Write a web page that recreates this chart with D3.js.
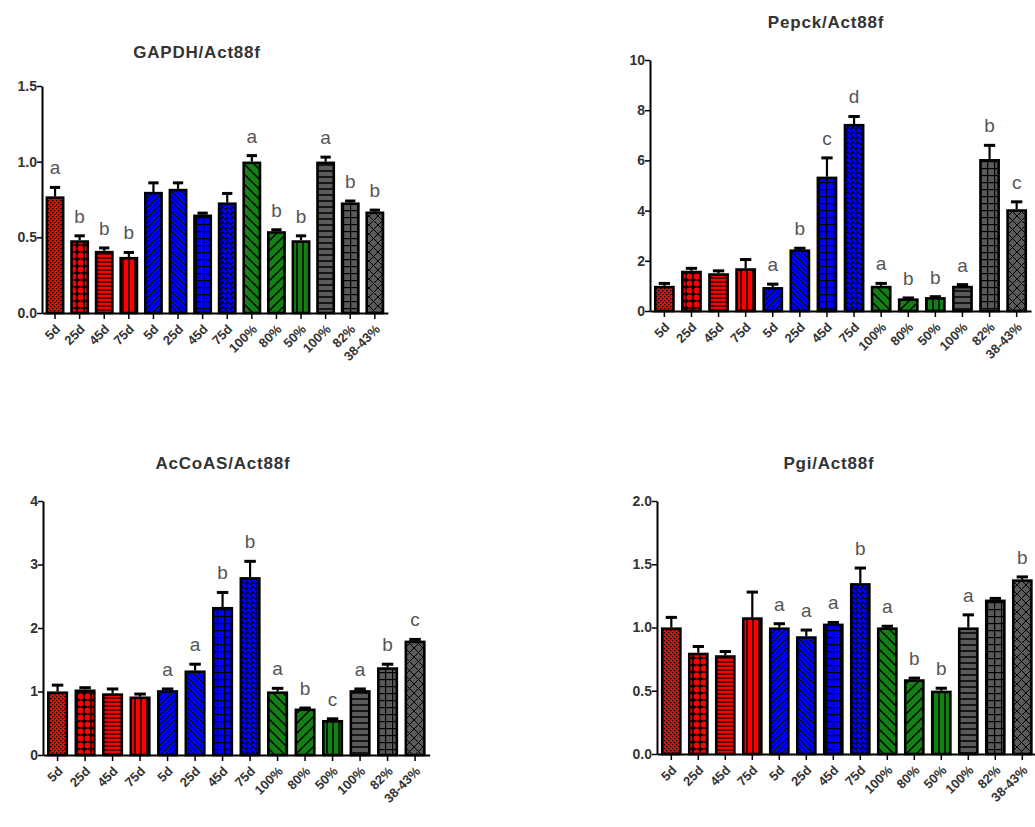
<!DOCTYPE html>
<meta charset="utf-8">
<style>
  body { margin: 0; background: #fff; }
  svg { display: block; font-family: "Liberation Sans", Arial, sans-serif; }
</style>
<body>
<div id="chart"></div>
<script src="https://d3js.org/d3.v7.min.js"></script>
<script>
// categories (same for all four panels)
var categories = ["5d", "25d", "45d", "75d", "5d", "25d", "45d", "75d",
                  "100%", "80%", "50%", "100%", "82%", "38-43%"];

// GAPDH/Act88f
var gapdhMean = [0.77, 0.48, 0.41, 0.37, 0.80, 0.82, 0.65, 0.73, 1.00, 0.54, 0.48, 1.00, 0.73, 0.67];
var gapdhErr  = [0.06, 0.03, 0.02, 0.03, 0.06, 0.04, 0.01, 0.06, 0.04, 0.01, 0.03, 0.03, 0.01, 0.01];
var gapdhSig  = ["a", "b", "b", "b", "", "", "", "", "a", "b", "b", "a", "b", "b"];

// Pepck/Act88f
var pepckMean = [1.00, 1.60, 1.50, 1.70, 0.95, 2.45, 5.35, 7.45, 1.00, 0.50, 0.55, 1.00, 6.05, 4.05];
var pepckErr  = [0.10, 0.10, 0.10, 0.35, 0.12, 0.05, 0.75, 0.30, 0.10, 0.02, 0.02, 0.05, 0.55, 0.30];
var pepckSig  = ["", "", "", "", "a", "b", "c", "d", "a", "b", "b", "a", "b", "c"];

// AcCoAS/Act88f
var accoasMean = [1.00, 1.03, 0.97, 0.92, 1.02, 1.33, 2.33, 2.80, 1.00, 0.73, 0.55, 1.02, 1.38, 1.80];
var accoasErr  = [0.10, 0.03, 0.07, 0.04, 0.02, 0.10, 0.23, 0.25, 0.05, 0.01, 0.02, 0.02, 0.05, 0.02];
var accoasSig  = ["", "", "", "", "a", "a", "b", "b", "a", "b", "c", "a", "b", "c"];

// Pgi/Act88f
var pgiMean = [1.00, 0.80, 0.78, 1.08, 1.00, 0.93, 1.03, 1.35, 1.00, 0.59, 0.50, 1.00, 1.22, 1.38];
var pgiErr  = [0.08, 0.05, 0.03, 0.20, 0.03, 0.05, 0.01, 0.12, 0.01, 0.01, 0.02, 0.10, 0.01, 0.02];
var pgiSig  = ["", "", "", "", "a", "a", "a", "b", "a", "b", "b", "a", "", "b"];

// styling per bar (colour + hatch kind)
var barColors = ["#ff0000", "#ff0000", "#ff0000", "#ff0000",
                 "#0000ff", "#0000ff", "#0000ff", "#0000ff",
                 "#138013", "#138013", "#138013",
                 "#5a5a5a", "#5a5a5a", "#5a5a5a"];
var barHatch = ["check", "circles", "hlinesFine", "vlines",
                "diagUpFine", "diagDownFine", "grid", "dashDiag",
                "diagDownWide", "diagUpWide", "vlines",
                "hlines", "grid", "cross"];

var svg = d3.select("#chart").append("svg")
    .attr("width", 1035)
    .attr("height", 827);

var defs = svg.append("defs");

// build one pattern per bar index
barHatch.forEach(function(kind, i) {
  var c = barColors[i];
  var s = 6;
  if (kind == "check") s = 4;
  if (kind == "circles") s = 7;
  if (kind == "hlinesFine") s = 4;
  if (kind == "diagUpFine" || kind == "diagDownFine") s = 5;
  if (kind == "dashDiag") s = 5;
  if (kind == "diagDownWide" || kind == "diagUpWide") s = 10;
  if (kind == "grid") s = 7;
  if (kind == "cross") s = 9;
  var p = defs.append("pattern")
      .attr("id", "pat" + i)
      .attr("patternUnits", "userSpaceOnUse")
      .attr("width", s)
      .attr("height", s);
  p.append("rect").attr("width", s).attr("height", s).attr("fill", c);
  var line = function(x1, y1, x2, y2, w) {
    p.append("line").attr("x1", x1).attr("y1", y1).attr("x2", x2).attr("y2", y2)
      .attr("stroke", "#000").attr("stroke-width", w);
  };
  if (kind == "check") {
    p.append("rect").attr("x", 0).attr("y", 0).attr("width", 1.3).attr("height", 1.3).attr("fill", "#000");
    p.append("rect").attr("x", 2).attr("y", 2).attr("width", 1.3).attr("height", 1.3).attr("fill", "#000");
  } else if (kind == "circles") {
    p.append("rect").attr("width", s).attr("height", s).attr("fill", "#000");
    p.append("circle").attr("cx", s / 2).attr("cy", s / 2).attr("r", 2.9).attr("fill", c);
  } else if (kind == "hlinesFine" || kind == "hlines") {
    line(0, s / 2, s, s / 2, kind == "hlines" ? 1.5 : 1.2);
  } else if (kind == "vlines") {
    line(s / 2, 0, s / 2, s, 1.5);
  } else if (kind == "diagUpFine" || kind == "diagUpWide") {
    var w = kind == "diagUpWide" ? 1.4 : 1;
    line(0, s, s, 0, w); line(-1, 1, 1, -1, w); line(s - 1, s + 1, s + 1, s - 1, w);
  } else if (kind == "diagDownFine" || kind == "diagDownWide") {
    var w2 = kind == "diagDownWide" ? 1.4 : 1;
    line(0, 0, s, s, w2); line(-1, s - 1, 1, s + 1, w2); line(s - 1, -1, s + 1, 1, w2);
  } else if (kind == "dashDiag") {
    line(0, s, s * 0.6, s * 0.4, 1.3);
    line(s * 0.2, 0, s, s * 0.8, 0.8);
  } else if (kind == "grid") {
    line(0, 0.5, s, 0.5, 1.4); line(0.5, 0, 0.5, s, 1.4);
  } else if (kind == "cross") {
    line(0, 0, s, s, 1); line(0, s, s, 0, 1);
  }
});

// panel layout
var panels = [
  {title: "GAPDH/Act88f", mean: gapdhMean, err: gapdhErr, sig: gapdhSig,
   max: 1.5, ticks: [0, 0.5, 1.0, 1.5], fmt: d3.format(".1f"),
   x0: 42, step: 24.6, yTop: 86, yBottom: 313, titleX: 197, titleY: 58},
  {title: "Pepck/Act88f", mean: pepckMean, err: pepckErr, sig: pepckSig,
   max: 10, ticks: [0, 2, 4, 6, 8, 10], fmt: d3.format("d"),
   x0: 650, step: 27.1, yTop: 60, yBottom: 311, titleX: 826, titleY: 28},
  {title: "AcCoAS/Act88f", mean: accoasMean, err: accoasErr, sig: accoasSig,
   max: 4, ticks: [0, 1, 2, 3, 4], fmt: d3.format("d"),
   x0: 43, step: 27.5, yTop: 501, yBottom: 755, titleX: 223, titleY: 469},
  {title: "Pgi/Act88f", mean: pgiMean, err: pgiErr, sig: pgiSig,
   max: 2, ticks: [0, 0.5, 1.0, 1.5, 2.0], fmt: d3.format(".1f"),
   x0: 657, step: 27, yTop: 501, yBottom: 754, titleX: 829, titleY: 469}
];

var padIn = 0.24, padOut = 0.15;

panels.forEach(function(P) {
  var idx = d3.range(categories.length);
  var x1 = P.x0 + P.step * (idx.length - padIn + 2 * padOut);
  var x = d3.scaleBand().domain(idx).range([P.x0, x1])
      .paddingInner(padIn).paddingOuter(padOut);
  var y = d3.scaleLinear().domain([0, P.max]).range([P.yBottom, P.yTop]);

  var g = svg.append("g");

  // title
  g.append("text")
      .attr("x", P.titleX)
      .attr("y", P.titleY)
      .attr("text-anchor", "middle")
      .attr("font-size", "17px")
      .attr("font-weight", "bold")
      .attr("letter-spacing", "0.8px")
      .attr("fill", "#333")
      .text(P.title);

  // error bars (upper only)
  var capW = x.bandwidth() * 0.55;
  g.selectAll(".err")
      .data(idx)
    .enter().append("line")
      .attr("x1", function(i) { return x(i) + x.bandwidth() / 2; })
      .attr("x2", function(i) { return x(i) + x.bandwidth() / 2; })
      .attr("y1", function(i) { return y(P.mean[i]); })
      .attr("y2", function(i) { return y(P.mean[i] + P.err[i]); })
      .attr("stroke", "#000")
      .attr("stroke-width", 2.2);
  g.selectAll(".cap")
      .data(idx)
    .enter().append("line")
      .attr("x1", function(i) { return x(i) + x.bandwidth() / 2 - capW / 2; })
      .attr("x2", function(i) { return x(i) + x.bandwidth() / 2 + capW / 2; })
      .attr("y1", function(i) { return y(P.mean[i] + P.err[i]); })
      .attr("y2", function(i) { return y(P.mean[i] + P.err[i]); })
      .attr("stroke", "#000")
      .attr("stroke-width", 3);

  // bars
  g.selectAll(".bar")
      .data(idx)
    .enter().append("rect")
      .attr("x", function(i) { return x(i) + 1.2; })
      .attr("width", x.bandwidth() - 2.4)
      .attr("y", function(i) { return y(P.mean[i]) + 1.2; })
      .attr("height", function(i) { return Math.max(0, P.yBottom - y(P.mean[i]) - 1.2); })
      .attr("fill", function(i) { return "url(#pat" + i + ")"; })
      .attr("stroke", "#000")
      .attr("stroke-width", 2.6);

  // significance letters
  g.selectAll(".sig")
      .data(idx)
    .enter().append("text")
      .attr("x", function(i) { return x(i) + x.bandwidth() / 2; })
      .attr("y", function(i) { return y(P.mean[i] + P.err[i]) - 13; })
      .attr("text-anchor", "middle")
      .attr("font-size", "19px")
      .attr("fill", "#555")
      .text(function(i) { return P.sig[i]; });

  // y axis
  var ya = g.append("g")
      .attr("transform", "translate(" + P.x0 + ",0)")
      .call(d3.axisLeft(y).tickValues(P.ticks).tickFormat(P.fmt).tickSize(5).tickSizeOuter(0));
  ya.select(".domain").attr("stroke-width", 2);
  ya.selectAll(".tick line").attr("stroke-width", 1.5);
  ya.selectAll("text")
      .attr("font-size", "14px")
      .attr("font-weight", "bold")
      .attr("fill", "#333")
      .attr("font-family", "'Liberation Sans', Arial, sans-serif")
      .attr("x", -5);

  // x axis
  var xa = g.append("g")
      .attr("transform", "translate(0," + P.yBottom + ")")
      .call(d3.axisBottom(x).tickFormat(function(i) { return categories[i]; })
            .tickSize(6).tickSizeOuter(0));
  xa.select(".domain").attr("stroke-width", 2);
  xa.selectAll(".tick line").attr("stroke-width", 1.5);
  xa.selectAll("text")
      .attr("font-size", "13px")
      .attr("font-weight", "bold")
      .attr("fill", "#333")
      .attr("font-family", "'Liberation Sans', Arial, sans-serif")
      .attr("text-anchor", "end")
      .attr("dy", "0")
      .attr("transform", "translate(6,17) rotate(-45)");
  xa.selectAll("text").attr("y", 0).attr("x", 0);
});
</script>
</body>
